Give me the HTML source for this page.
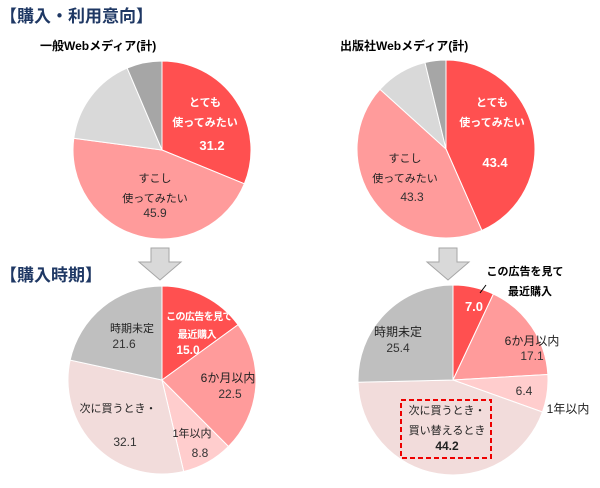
<!DOCTYPE html>
<html><head><meta charset="utf-8">
<style>
body{margin:0;background:#fff;width:600px;height:483px;overflow:hidden;font-family:"Liberation Sans","Noto Sans CJK JP",sans-serif;}
svg text{font-family:"Liberation Sans","Noto Sans CJK JP",sans-serif;}
</style></head>
<body>
<svg id="c" width="600" height="483" viewBox="0 0 600 483">
<text x="0" y="22" font-size="17" font-weight="bold" fill="#1f3864">【購入・利用意向】</text>
<text x="40" y="50" font-size="12" font-weight="bold" fill="#000">一般Webメディア(計)</text>
<text x="340" y="50" font-size="12" font-weight="bold" fill="#000">出版社Webメディア(計)</text>
<text x="0" y="281" font-size="17" font-weight="bold" fill="#1f3864">【購入時期】</text>
<g id="pies"></g>
<g id="labels"></g>
</svg>
<script>
const intentGeneral = [31.2, 45.9, 16.5, 6.4];
const intentPublisher = [43.4, 43.3, 9.5, 3.8];
const timingGeneral = [15.0, 22.5, 8.8, 32.1, 21.6];
const timingPublisher = [7.0, 17.1, 6.4, 44.2, 25.4];
const intentNames = ['very-likely','somewhat-likely','not-very','not-at-all'];
const timingNames = ['recent-purchase','within-6-months','within-1-year','next-purchase','undecided'];
const intentColors = ['#ff5050','#ff9b9b','#d9d9d9','#a6a6a6'];
const timingColors = ['#ff5050','#ff9b9b','#ffcdcd','#f2dcdb','#bfbfbf'];
const NS='http://www.w3.org/2000/svg';
const pies=document.getElementById('pies');
const labels=document.getElementById('labels');
function pt(cx,cy,r,a){return [cx+r*Math.sin(a),cy-r*Math.cos(a)];}
function drawPie(vals,cols,names,cx,cy,r,id){
  const tot=vals.reduce((a,b)=>a+b,0);let a0=0;
  const g=document.createElementNS(NS,'g');
  
  
  vals.forEach((v,i)=>{
    const a1=a0+v/tot*Math.PI*2;
    const p0=pt(cx,cy,r,a0),p1=pt(cx,cy,r,a1);
    const p=document.createElementNS(NS,'path');
    p.setAttribute('d',`M${cx},${cy}L${p0[0]},${p0[1]}A${r},${r} 0 ${a1-a0>Math.PI?1:0} 1 ${p1[0]},${p1[1]}Z`);
    p.setAttribute('fill',cols[i]);p.setAttribute('stroke','#fff');p.setAttribute('stroke-width','1');
    
    
    g.appendChild(p);a0=a1;
  });
  pies.appendChild(g);
}
drawPie(intentGeneral,intentColors,intentNames,162,150,89,'pie-general-intent');
drawPie(intentPublisher,intentColors,intentNames,446,149,89,'pie-publisher-intent');
drawPie(timingGeneral,timingColors,timingNames,162,380,94,'pie-general-timing');
drawPie(timingPublisher,timingColors,timingNames,453,380,95,'pie-publisher-timing');
function arrow(x,y,n){
  const p=document.createElementNS(NS,'path');
  p.setAttribute('d',`M${x-9},${y}h18v14h12l-21,18l-21,-18h12z`);
  p.setAttribute('fill','#d9d9d9');p.setAttribute('stroke','#a6a6a6');p.setAttribute('stroke-width','1');
  
  
  pies.appendChild(p);
}
arrow(160,248,'down-arrow-general');arrow(448,248,'down-arrow-publisher');
function T(x,y,s,txt,col,bold,n,ls){
  const t=document.createElementNS(NS,'text');
  t.setAttribute('x',x);t.setAttribute('y',y);t.setAttribute('font-size',s);t.setAttribute('text-anchor','middle');
  t.setAttribute('fill',col);if(bold)t.setAttribute('font-weight','bold');
  if(ls)t.setAttribute('letter-spacing',ls);
  t.textContent=txt;
  
  
  labels.appendChild(t);
}
// top-left
T(205,106,11,'とても','#fff',true,'label-very-likely');
T(205,126,11,'使ってみたい','#fff',true,'label-very-likely-2');
T(212,150,13,'31.2','#fff',true,'value-31-2');
T(155,182,11,'すこし','#222',false,'label-somewhat');
T(155,202,11,'使ってみたい','#222',false,'label-somewhat-2');
T(155,217,12,String(intentGeneral[1]),'#333',false,'value-45-9');
// top-right
T(492,106,11,'とても','#fff',true,'label-very-likely-pub');
T(492,126,11,'使ってみたい','#fff',true,'label-very-likely-pub-2');
T(495,167,13,'43.4','#fff',true,'value-43-4');
T(405,162,11,'すこし','#222',false,'label-somewhat-pub');
T(405,182,11,'使ってみたい','#222',false,'label-somewhat-pub-2');
T(412,201,12,String(intentPublisher[1]),'#333',false,'value-43-3');
// bottom-left
T(199,320,10,'この広告を見て','#fff',true,'label-recent','-0.6');
T(197,338,10,'最近購入','#fff',true,'label-recent-2','-0.4');
T(188,354,12,'15.0','#fff',true,'value-15-0');
T(132,332,11,'時期未定','#222',false,'label-undecided');
T(124,348,12,'21.6','#333',false,'value-21-6');
T(228,382,12,'6か月以内','#222',false,'label-6m');
T(230,398,12,'22.5','#333',false,'value-22-5');
T(118,412,11,'次に買うとき・','#222',false,'label-next');
T(125,446,12,'32.1','#333',false,'value-32-1');
T(192,437,11,'1年以内','#222',false,'label-1y');
T(200,457,12,'8.8','#333',false,'value-8-8');
// bottom-right
T(525,275,11,'この広告を見て','#000',true,'label-recent-pub');
T(530,295,11,'最近購入','#000',true,'label-recent-pub-2');
T(474,311,13,'7.0','#fff',true,'value-7-0');
T(532,345,12,'6か月以内','#222',false,'label-6m-pub');
T(532,360,12,'17.1','#333',false,'value-17-1');
T(524,395,12,'6.4','#333',false,'value-6-4');
T(568,413,12,'1年以内','#222',false,'label-1y-pub');
T(398,336,12,'時期未定','#222',false,'label-undecided-pub');
T(398,352,12,'25.4','#333',false,'value-25-4');
T(447,414,11,'次に買うとき・','#222',false,'label-next-pub');
T(447,434,11,'買い替えるとき','#222',false,'label-next-pub-2');
T(447,450,12,'44.2','#222',true,'value-44-2');
const r=document.createElementNS(NS,'rect');
r.setAttribute('x',401);r.setAttribute('y',400);r.setAttribute('width',90);r.setAttribute('height',58);
r.setAttribute('fill','none');r.setAttribute('stroke','#e00');r.setAttribute('stroke-width','2');r.setAttribute('stroke-dasharray','5,3');


labels.appendChild(r);
const l=document.createElementNS(NS,'line');
l.setAttribute('x1',480);l.setAttribute('y1',293);l.setAttribute('x2',486);l.setAttribute('y2',285);l.setAttribute('stroke','#000');


labels.appendChild(l);
</script>
</body></html>
